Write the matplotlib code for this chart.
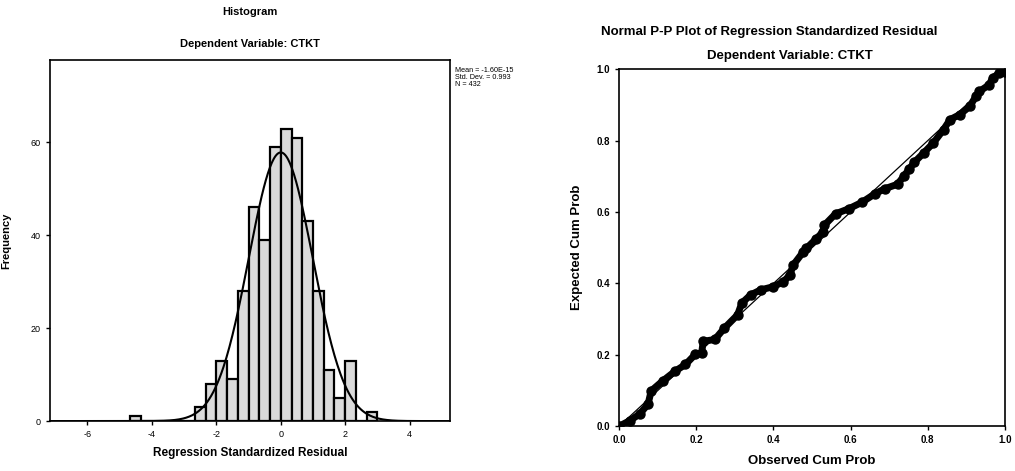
import numpy as np
import matplotlib
matplotlib.use("Agg")
import matplotlib.pyplot as plt

plt.rcParams["font.family"] = ["Liberation Sans", "DejaVu Sans"]
plt.rcParams["axes.unicode_minus"] = False

# ----- histogram data (bin width 1/3) -----
bin_left = [-4.667, -4.333, -4.0, -3.667, -3.333, -3.0, -2.667, -2.333,
            -2.0, -1.667, -1.333, -1.0, -0.667, -0.333, 0.0, 0.333,
            0.667, 1.0, 1.333, 1.667, 2.0, 2.333, 2.667]
counts = [1, 0, 0, 0, 0, 0, 3, 8,
          13, 9, 28, 46, 39, 59, 63, 61,
          43, 28, 11, 5, 13, 0, 2]
bin_width = 1 / 3
res_mean = -1.60e-15
res_std = 0.993
n_obs = 432

# ----- P-P plot data -----
obs_cum = [0.0, 0.028, 0.053, 0.075, 0.083, 0.113, 0.146, 0.172, 0.197,
           0.214, 0.218, 0.248, 0.273, 0.307, 0.318, 0.341, 0.367, 0.400,
           0.426, 0.443, 0.451, 0.477, 0.485, 0.511, 0.528, 0.532, 0.561,
           0.595, 0.629, 0.663, 0.688, 0.722, 0.739, 0.752, 0.765, 0.790,
           0.815, 0.841, 0.858, 0.883, 0.909, 0.925, 0.934, 0.959, 0.968,
           0.985, 1.0]
exp_cum = [0.0, 0.016, 0.034, 0.062, 0.099, 0.127, 0.155, 0.173, 0.201,
           0.206, 0.238, 0.243, 0.275, 0.312, 0.345, 0.368, 0.382, 0.391,
           0.405, 0.424, 0.451, 0.488, 0.498, 0.525, 0.544, 0.563, 0.595,
           0.609, 0.627, 0.651, 0.665, 0.678, 0.702, 0.720, 0.739, 0.766,
           0.794, 0.831, 0.859, 0.873, 0.896, 0.924, 0.938, 0.956, 0.975,
           0.989, 0.991]

fig = plt.figure(figsize=(10.15, 4.71), dpi=100)

# ----- Histogram -----
ax1 = fig.add_axes([0.0493, 0.106, 0.394, 0.766])
ax1.bar(bin_left, counts, width=bin_width, align="edge",
        facecolor="#dadada", edgecolor="black", linewidth=1.6)
xs = np.linspace(-7.2, 5.3, 400)
pdf = np.exp(-0.5 * ((xs - res_mean) / res_std) ** 2) / (res_std * np.sqrt(2 * np.pi))
ax1.plot(xs, n_obs * bin_width * pdf, color="black", lw=1.5)
ax1.set_xlim(-7.16, 5.25)
ax1.set_ylim(0, 77.7)
ax1.set_xticks([-6, -4, -2, 0, 2, 4])
ax1.set_yticks([0, 20, 40, 60])
ax1.tick_params(labelsize=6.5, direction="out", length=3, width=1)
for s in ax1.spines.values():
    s.set_linewidth(1.2)
ax1.set_ylabel("Frequency", fontsize=8, fontweight="bold", labelpad=14)
ax1.set_xlabel("Regression Standardized Residual", fontsize=8.5,
               fontweight="bold", labelpad=6)
fig.text(0.246, 0.985, "Histogram", ha="center", va="top", fontsize=8,
         fontweight="bold")
fig.text(0.246, 0.918, "Dependent Variable: CTKT", ha="center", va="top",
         fontsize=8, fontweight="bold")
fig.text(0.448, 0.858,
         f"Mean = -1.60E-15\nStd. Dev. = {res_std}\nN = {n_obs}",
         ha="left", va="top", fontsize=5.2, linespacing=1.0)

# ----- Normal P-P plot -----
ax2 = fig.add_axes([0.610, 0.095, 0.380, 0.758])
ax2.plot([0, 1], [0, 1], color="black", lw=0.9)
ax2.plot(obs_cum, exp_cum, color="black", lw=5, solid_capstyle="round",
         solid_joinstyle="round", marker="o", markersize=6.5)
ax2.set_xlim(0, 1)
ax2.set_ylim(0, 1)
ticks = [0.0, 0.2, 0.4, 0.6, 0.8, 1.0]
ax2.set_xticks(ticks)
ax2.set_yticks(ticks)
ax2.set_xticklabels([f"{t:.1f}" for t in ticks])
ax2.set_yticklabels([f"{t:.1f}" for t in ticks])
ax2.tick_params(labelsize=7, direction="out", length=3, width=1)
for lab in ax2.get_xticklabels() + ax2.get_yticklabels():
    lab.set_fontweight("bold")
for s in ax2.spines.values():
    s.set_linewidth(1.2)
ax2.set_ylabel("Expected Cum Prob", fontsize=9.5, fontweight="bold",
               labelpad=10)
ax2.set_xlabel("Observed Cum Prob", fontsize=9.5, fontweight="bold",
               labelpad=7)
fig.text(0.758, 0.945, "Normal P-P Plot of Regression Standardized Residual",
         ha="center", va="top", fontsize=9.5, fontweight="bold")
fig.text(0.778, 0.893, "Dependent Variable: CTKT", ha="center", va="top",
         fontsize=9.5, fontweight="bold")

fig.savefig("out.png", dpi=100)
